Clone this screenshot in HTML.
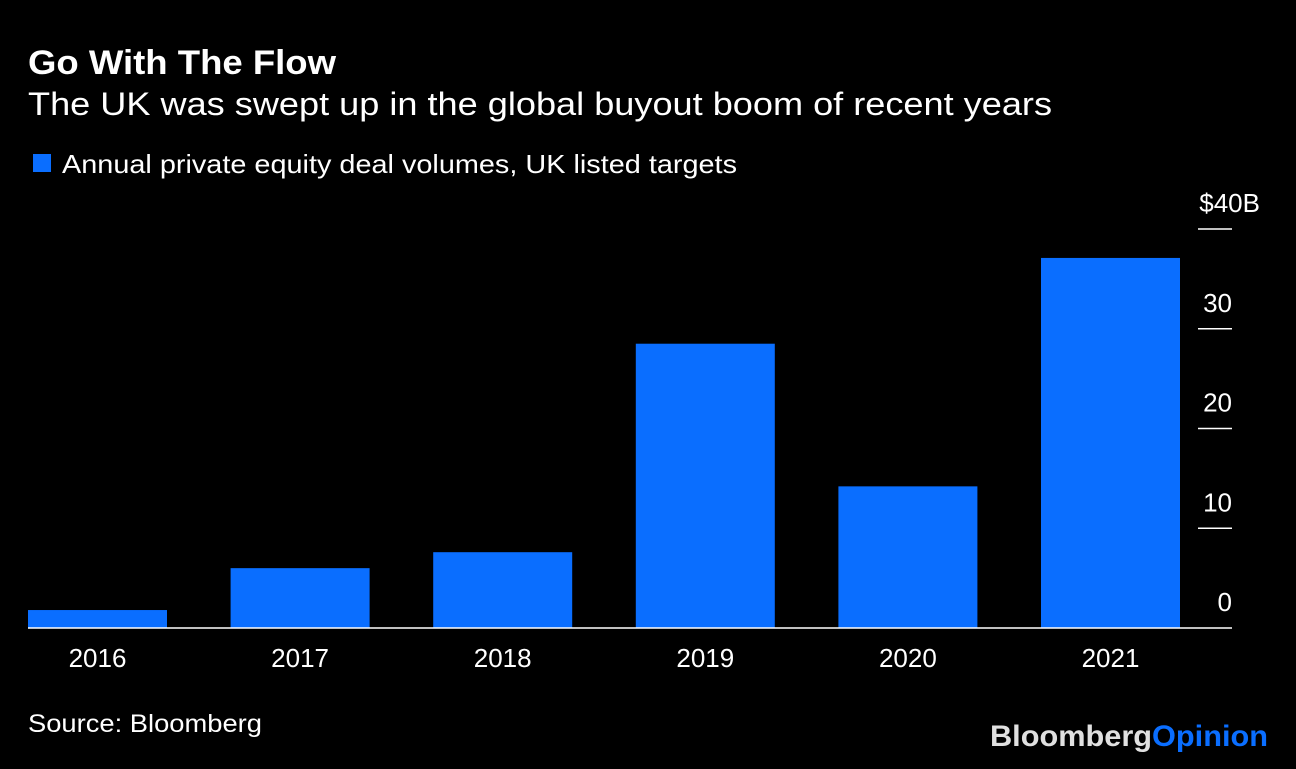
<!DOCTYPE html>
<html><head><meta charset="utf-8"><style>
body{margin:0;background:#000;width:1296px;height:764px;overflow:hidden;font-family:"Liberation Sans",sans-serif;color:#fff}
</style></head><body>
<svg width="1296" height="764" id="c">
<text x="28" y="74" font-size="34" font-weight="bold" fill="#fff" textLength="308" lengthAdjust="spacingAndGlyphs">Go With The Flow</text>
<text x="28" y="115" font-size="32" fill="#fff" textLength="1024" lengthAdjust="spacingAndGlyphs">The UK was swept up in the global buyout boom of recent years</text>
<rect x="33" y="154" width="18" height="18" fill="#0a6eff"/>
<text x="62" y="173" font-size="26" fill="#fff" textLength="675" lengthAdjust="spacingAndGlyphs">Annual private equity deal volumes, UK listed targets</text>
<text x="28" y="732" font-size="25" fill="#fff" textLength="234" lengthAdjust="spacingAndGlyphs">Source: Bloomberg</text>
<text x="990" y="746" font-size="30" font-weight="bold" textLength="278" lengthAdjust="spacingAndGlyphs"><tspan fill="#e0e0e0">Bloomberg</tspan><tspan fill="#0a6eff">Opinion</tspan></text>
<g id="bars"></g><g id="axis"></g>
</svg>
<script>
const categories=["2016","2017","2018","2019","2020","2021"];
const values=[1.8,6.0,7.6,28.5,14.2,37.1];
const ticks=[0,10,20,30,40];
const tickLabels=["0","10","20","30","$40B"];
const NS="http://www.w3.org/2000/svg";
const y=v=>628-v*9.975;
const x=i=>28+i*202.6;
const bw=139;
const bars=document.getElementById('bars'),axis=document.getElementById('axis');
function mk(tag,attrs,parent){const e=document.createElementNS(NS,tag);for(const k in attrs)e.setAttribute(k,attrs[k]);parent.appendChild(e);return e;}
categories.forEach((c,i)=>{
 const r=mk('rect',{x:x(i),y:y(values[i]),width:bw,height:y(0)-y(values[i]),fill:'#0a6eff'},bars);
 
 
 const t=mk('text',{x:x(i)+bw/2,y:667,'font-size':26,fill:'#fff','text-anchor':'middle'},axis);
 t.textContent=c;
 
 
});
ticks.forEach((v,i)=>{
 if(v>0){const l=mk('line',{x1:1198,x2:1232,y1:y(v),y2:y(v),stroke:'#fff','stroke-width':1.5},axis);
 
 }
 const t=mk('text',{x:i===ticks.length-1?1260:1232,y:y(v)-17,'font-size':26,fill:'#fff','text-anchor':'end'},axis);
 t.textContent=tickLabels[i];
 
 
});
const base=mk('line',{x1:28,x2:1232,y1:y(0),y2:y(0),stroke:'#fff','stroke-width':1.5},axis);


</script>
</body></html>
